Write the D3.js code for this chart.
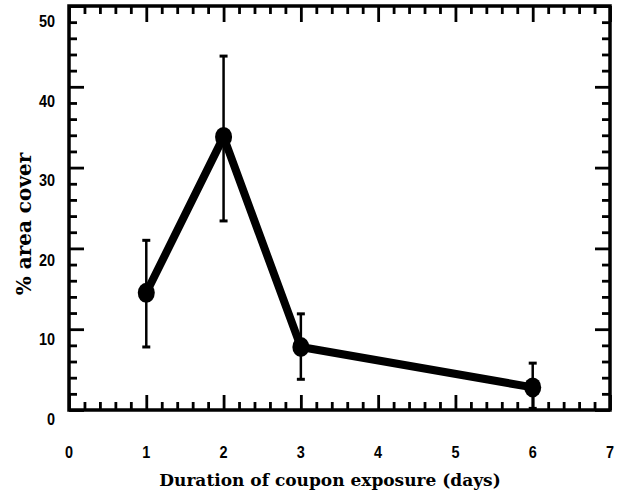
<!DOCTYPE html>
<html>
<head>
<meta charset="utf-8">
<script src="https://cdn.jsdelivr.net/npm/d3@7"></script>
<style>
  body { margin: 0; background: #fff; }
  .tick-label { font-family: "Liberation Sans", Arial, sans-serif; font-weight: bold; font-size: 17px; fill: #000; }
  .title { font-family: "DejaVu Serif", serif; font-weight: bold; fill: #000; }
</style>
</head>
<body>
<div id="chart"></div>
<script>
// data
const days = [1, 2, 3, 6];
const cover = [14.5, 33.8, 7.8, 2.8];
const errHigh = [21.0, 43.8, 11.9, 5.8];
const errLow = [7.8, 23.4, 3.8, 0.2];

const xTicks = [0, 1, 2, 3, 4, 5, 6, 7];
const yTicks = [0, 10, 20, 30, 40, 50];

const svgWidth = 628, svgHeight = 497;
const plot = { left: 69, right: 610, top: 6, bottom: 410 };

const svg = d3.select('#chart').append('svg')
  .attr('width', svgWidth)
  .attr('height', svgHeight);

const x = d3.scaleLinear().domain([0, 7]).range([plot.left, plot.right]);
const y = d3.scaleLinear().domain([0, 50]).range([plot.bottom, plot.top]);
// the printed y labels sit a bit below their ticks
const yLab = d3.scaleLinear().domain([0, 50]).range([425, 27]);

// minor / major ticks, all pointing inwards
const xMinor = d3.range(0, 35).map(i => i / 5).filter(v => v % 1 !== 0);
const yMinor = d3.range(0, 25).map(i => i * 2).filter(v => v % 10 !== 0);

function tickGroup(axis, tr) {
  const g = svg.append('g').attr('transform', tr).call(axis);
  g.select('.domain').remove();
  g.selectAll('text').remove();
  g.selectAll('line').attr('stroke', '#000').attr('stroke-width', 2.8);
  return g;
}

tickGroup(d3.axisBottom(x).tickValues(xMinor).tickSize(-8), `translate(0,${plot.bottom})`);
tickGroup(d3.axisBottom(x).tickValues(xTicks).tickSize(-15), `translate(0,${plot.bottom})`);
tickGroup(d3.axisTop(x).tickValues(xMinor).tickSize(-8), `translate(0,${plot.top})`);
tickGroup(d3.axisTop(x).tickValues(xTicks).tickSize(-16), `translate(0,${plot.top})`);
tickGroup(d3.axisLeft(y).tickValues(yMinor).tickSize(-8), `translate(${plot.left},0)`);
tickGroup(d3.axisLeft(y).tickValues(yTicks).tickSize(-15), `translate(${plot.left},0)`);
tickGroup(d3.axisRight(y).tickValues(yMinor).tickSize(-8), `translate(${plot.right},0)`);
tickGroup(d3.axisRight(y).tickValues(yTicks).tickSize(-15), `translate(${plot.right},0)`);

// frame
svg.append('rect')
  .attr('x', plot.left).attr('y', plot.top)
  .attr('width', plot.right - plot.left).attr('height', plot.bottom - plot.top)
  .attr('fill', 'none').attr('stroke', '#000').attr('stroke-width', 3.5);

// tick labels (narrow bold digits)
svg.selectAll('.ylab').data(yTicks).enter().append('text')
  .attr('class', 'tick-label')
  .attr('transform', d => `translate(55,${yLab(d)}) scale(0.85,1)`)
  .attr('text-anchor', 'end')
  .text(d => d);

svg.selectAll('.xlab').data(xTicks).enter().append('text')
  .attr('class', 'tick-label')
  .attr('transform', d => `translate(${x(d)},458) scale(0.85,1)`)
  .attr('text-anchor', 'middle')
  .text(d => d);

// axis titles
svg.append('text')
  .attr('class', 'title')
  .attr('font-size', 17)
  .attr('x', 330).attr('y', 486)
  .attr('text-anchor', 'middle')
  .text('Duration of coupon exposure (days)');

svg.append('text')
  .attr('class', 'title')
  .attr('font-size', 20)
  .attr('transform', 'translate(31,224) rotate(-90)')
  .attr('text-anchor', 'middle')
  .text('% area cover');

const pts = days.map((d, i) => ({ day: d, val: cover[i], hi: errHigh[i], lo: errLow[i] }));

// error bars
const eb = svg.append('g');
eb.selectAll('.bar').data(pts).enter().append('line')
  .attr('x1', d => x(d.day)).attr('x2', d => x(d.day))
  .attr('y1', d => y(d.hi)).attr('y2', d => y(d.lo))
  .attr('stroke', '#000').attr('stroke-width', 2.5);
['hi', 'lo'].forEach(k => {
  eb.selectAll('.cap-' + k).data(pts).enter().append('line')
    .attr('x1', d => x(d.day) - 4).attr('x2', d => x(d.day) + 4)
    .attr('y1', d => y(d[k])).attr('y2', d => y(d[k]))
    .attr('stroke', '#000').attr('stroke-width', 3);
});

// the line
const line = d3.line().x(d => x(d.day)).y(d => y(d.val));
svg.append('path')
  .datum(pts)
  .attr('d', line)
  .attr('fill', 'none')
  .attr('stroke', '#000')
  .attr('stroke-width', 8)
  .attr('stroke-linejoin', 'round');

// markers
svg.selectAll('.dot').data(pts).enter().append('ellipse')
  .attr('cx', d => x(d.day))
  .attr('cy', d => y(d.val))
  .attr('rx', 8.5).attr('ry', 10)
  .attr('fill', '#000');
</script>
</body>
</html>
